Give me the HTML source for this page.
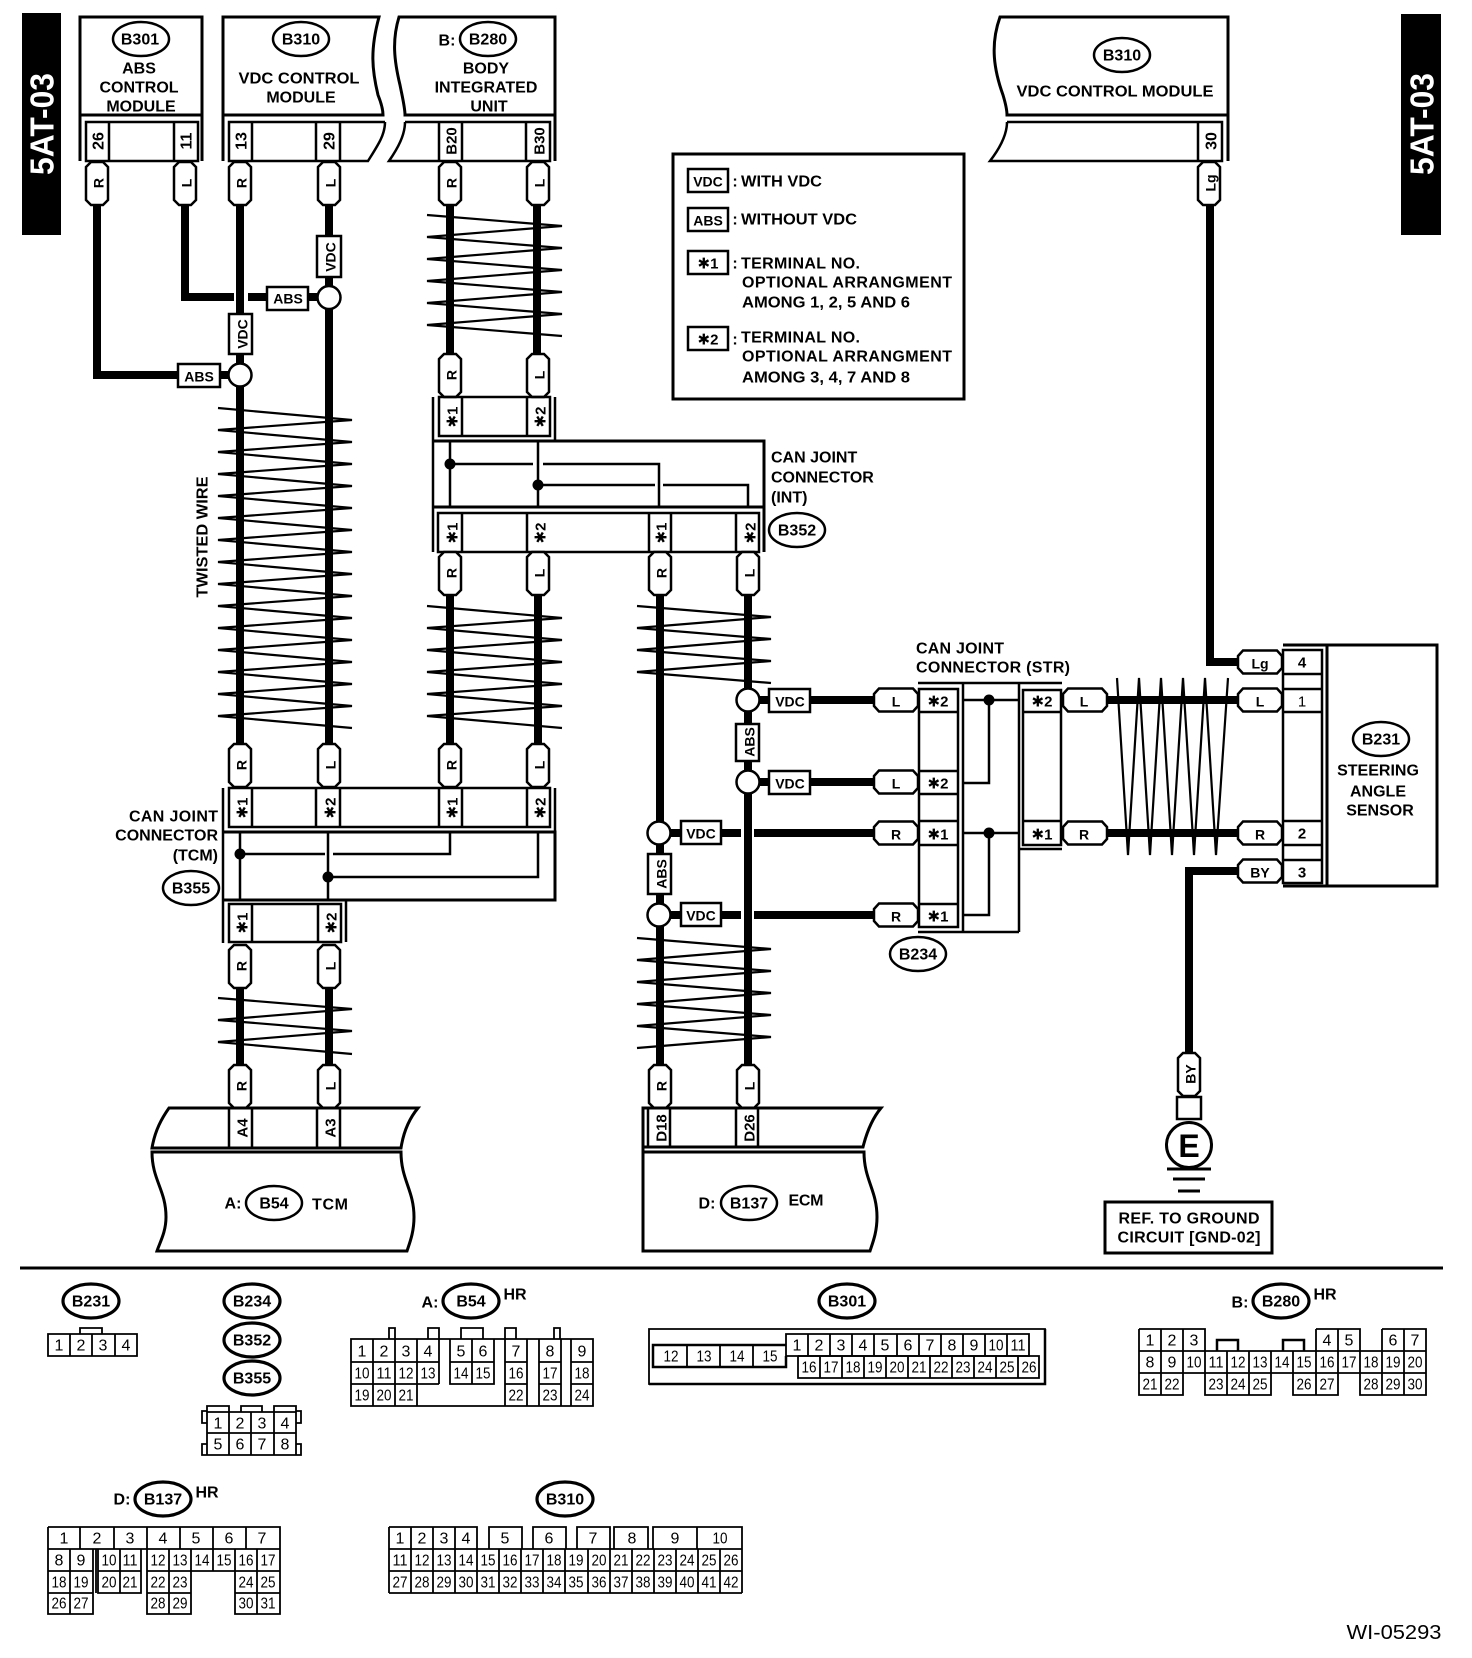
<!DOCTYPE html>
<html><head><meta charset="utf-8"><style>
html,body{margin:0;padding:0;background:#fff}
svg{display:block}
text{font-family:"Liberation Sans","DejaVu Sans",sans-serif;fill:#000;text-anchor:middle;dominant-baseline:mathematical}
text:not([transform]){translate:0 -1px}
.b{font-weight:bold;font-size:16px}
.s{font-weight:bold;font-size:14px}
.m{font-weight:bold;font-size:15px}
.n{font-size:16px}
.n text{font-size:16px}
.st{fill:none;stroke:#000;stroke-width:2.5}
.f{fill:#fff;stroke:#000;stroke-width:2.5}
.w{fill:none;stroke:#000;stroke-width:8}
.z{fill:none;stroke:#000;stroke-width:2.2}
.g{fill:none;stroke:#000;stroke-width:1.8}
.o{fill:#fff;stroke:#000;stroke-width:2.5}
.ot{fill:#fff;stroke:#000;stroke-width:3.2}
.l{text-anchor:start}
.r{text-anchor:end}
</style></head><body>
<svg width="1472" height="1658" viewBox="0 0 1472 1658" xmlns="http://www.w3.org/2000/svg">
<defs>
<path id="pv" class="f" d="M-11,5 L-6,0 H6 L11,5 V38 L6,43 H-6 L-11,38 Z"/>
<path id="ph" class="f" d="M5,-11.5 H39 L44,-6 V6 L39,11.5 H5 L0,6 V-6 Z"/>
</defs>
<rect width="1472" height="1658" fill="#fff"/>

<!-- side tabs -->
<rect x="22" y="13" width="39" height="222" fill="#000"/>
<rect x="1401" y="14" width="40" height="221" fill="#000"/>
<text transform="translate(42,124) rotate(-90)" style="fill:#fff;font-weight:bold;font-size:33px;dominant-baseline:central" textLength="102" lengthAdjust="spacingAndGlyphs">5AT-03</text>
<text transform="translate(1422,124) rotate(-90)" style="fill:#fff;font-weight:bold;font-size:33px;dominant-baseline:central" textLength="102" lengthAdjust="spacingAndGlyphs">5AT-03</text>

<!-- wires -->
<path class="w" d="M97,205 V375 H180"/>
<path class="w" d="M220,375 H232"/>
<path class="w" d="M185,205 V297 H234"/>
<path class="w" d="M248,297 H268 M308,297 H320"/>
<path class="w" d="M240,205 V745"/>
<path class="w" d="M329,205 V745"/>
<path class="w" d="M450,205 V355 M537,205 V355"/>
<path class="w" d="M450,595 V745 M538,595 V745"/>
<path class="w" d="M240,987 V1066 M329,987 V1066"/>
<path class="w" d="M660,595 V1066 M748,595 V1066"/>
<path class="w" d="M759,700 H875 M759,782 H875"/>
<path class="w" d="M671,833 H741 M754,833 H875 M671,915 H741 M754,915 H875"/>
<path class="w" d="M1107,700 H1238 M1107,833 H1238"/>
<path class="w" d="M1210,205 V662 H1238"/>
<path class="w" d="M1238,871 H1189 V1054"/>

<!-- twists -->
<path class="z" d="M218,408 L352,420 L218,430 L352,442 L218,452 L352,464 L218,474 L352,486 L218,496 L352,508 L218,518 L352,530 L218,540 L352,552 L218,562 L352,574 L218,584 L352,596 L218,606 L352,618 L218,628 L352,640 L218,650 L352,662 L218,672 L352,684 L218,694 L352,706 L218,716 L352,728"/>
<path class="z" d="M427,215 L562,226 L427,237 L562,248 L427,259 L562,270 L427,281 L562,292 L427,303 L562,314 L427,325 L562,336"/>
<path class="z" d="M427,606 L562,618 L427,628 L562,640 L427,650 L562,662 L427,672 L562,684 L427,694 L562,706 L427,716 L562,728"/>
<path class="z" d="M218,998 L352,1009 L218,1020 L352,1031 L218,1042 L352,1054"/>
<path class="z" d="M637,606 L771,617 L637,628 L771,639 L637,650 L771,661 L637,672 L771,683"/>
<path class="z" d="M637,938 L771,949 L637,960 L771,971 L637,982 L771,993 L637,1004 L771,1015 L637,1026 L771,1037 L637,1048"/>
<path class="z" d="M1117,678 L1128,855 L1139,678 L1150,855 L1161,678 L1172,855 L1183,678 L1194,855 L1205,678 L1216,855 L1228,678"/>

<!-- module boxes -->
<path class="st" style="stroke-width:3" d="M80,161 V17 H202 V161 M80,115 H202"/>
<rect class="st" x="86" y="122" width="112" height="39"/>
<path class="st" d="M109,122 V161 M174,122 V161"/>
<path class="st" style="stroke-width:3" d="M223,161 V17 H379 C370,50 372,70 378,95 C382,105 383,110 383,115 H223"/>
<path class="st" d="M385,122 H229 V161 H368 C378,145 385,135 385,122 M252,122 V161 M316,122 V161 M340,122 V161"/>
<path class="st" style="stroke-width:3" d="M555,161 V17 H399 C392,40 394,60 400,85 C403,100 405,108 405,115 H555"/>
<path class="st" d="M405,122 H550 V161 H389 C398,148 405,135 405,122 M439,122 V161 M462,122 V161 M526,122 V161"/>
<path class="st" style="stroke-width:3" d="M1228,161 V17 H1000 C990,45 994,70 1003,95 C1006,105 1007,110 1007,115 H1228"/>
<path class="st" d="M1007,122 H1222 V161 H990 C1000,148 1007,135 1007,122 M1198,122 V161"/>

<ellipse class="o" cx="141" cy="39" rx="28" ry="17"/><text class="b" x="140" y="39">B301</text>
<text class="b" x="139" y="68">ABS</text><text class="b" x="139" y="87">CONTROL</text><text class="b" x="141" y="106">MODULE</text>
<ellipse class="o" cx="301" cy="39" rx="28" ry="17"/><text class="b" x="301" y="39">B310</text>
<text class="b" x="299" y="78" textLength="121" lengthAdjust="spacingAndGlyphs">VDC CONTROL</text><text class="b" x="301" y="97">MODULE</text>
<text class="b" x="447" y="40">B:</text>
<ellipse class="o" cx="488" cy="39" rx="28" ry="17"/><text class="b" x="488" y="39">B280</text>
<text class="b" x="486" y="68">BODY</text><text class="b" x="486" y="87">INTEGRATED</text><text class="b" x="489" y="106">UNIT</text>
<ellipse class="o" cx="1122" cy="55" rx="28" ry="17"/><text class="b" x="1122" y="55">B310</text>
<text class="b" x="1115" y="91" textLength="197" lengthAdjust="spacingAndGlyphs">VDC CONTROL MODULE</text>

<text class="n" style="font-weight:bold" transform="translate(97,141) rotate(-90)">26</text>
<text class="n" style="font-weight:bold" transform="translate(185,141) rotate(-90)">11</text>
<text class="n" style="font-weight:bold" transform="translate(240,141) rotate(-90)">13</text>
<text class="n" style="font-weight:bold" transform="translate(328,141) rotate(-90)">29</text>
<text class="m" transform="translate(450,141) rotate(-90)">B20</text>
<text class="m" transform="translate(538,141) rotate(-90)">B30</text>
<text class="n" style="font-weight:bold" transform="translate(1210,141) rotate(-90)">30</text>

<!-- top pins -->
<use href="#pv" x="97" y="162"/><use href="#pv" x="185" y="162"/><use href="#pv" x="240" y="162"/><use href="#pv" x="329" y="162"/><use href="#pv" x="450" y="162"/><use href="#pv" x="538" y="162"/><use href="#pv" x="1209" y="162"/>
<text class="s" transform="translate(97,183) rotate(-90)">R</text>
<text class="s" transform="translate(185,183) rotate(-90)">L</text>
<text class="s" transform="translate(240,183) rotate(-90)">R</text>
<text class="s" transform="translate(329,183) rotate(-90)">L</text>
<text class="s" transform="translate(450,183) rotate(-90)">R</text>
<text class="s" transform="translate(538,183) rotate(-90)">L</text>
<text class="s" transform="translate(1209,183) rotate(-90)">Lg</text>

<!-- VDC/ABS upper left -->
<rect class="f" x="178" y="364" width="42" height="23"/><text class="s" x="199" y="376">ABS</text>
<rect class="f" x="267" y="287" width="41" height="23"/><text class="s" x="288" y="298">ABS</text>
<rect class="f" x="229" y="314" width="23" height="40"/><text class="s" transform="translate(241,334) rotate(-90)">VDC</text>
<rect class="f" x="317" y="236" width="24" height="41"/><text class="s" transform="translate(329,257) rotate(-90)">VDC</text>
<circle class="f" cx="240" cy="375" r="11.5"/>
<circle class="f" cx="329" cy="297.500" r="11.5"/>

<!-- legend -->
<rect class="st" style="stroke-width:3" x="673" y="154" width="291" height="245"/>
<rect class="st" x="688" y="169" width="40" height="23"/><text class="s" x="708" y="181">VDC</text>
<rect class="st" x="688" y="208" width="40" height="23"/><text class="s" x="708" y="220">ABS</text>
<rect class="st" x="688" y="251" width="40" height="23"/><text class="m" x="708" y="263">✱1</text>
<rect class="st" x="688" y="327" width="40" height="23"/><text class="m" x="708" y="339">✱2</text>
<text class="b" x="735" y="181">:</text><text class="b" x="735" y="219">:</text><text class="b" x="735" y="263">:</text><text class="b" x="735" y="339">:</text>
<text class="b l" x="741" y="181" textLength="81" lengthAdjust="spacingAndGlyphs">WITH VDC</text>
<text class="b l" x="741" y="219" textLength="116" lengthAdjust="spacingAndGlyphs">WITHOUT VDC</text>
<text class="b l" x="741" y="263" textLength="119">TERMINAL NO.</text>
<text class="b l" x="742" y="282" textLength="210">OPTIONAL ARRANGMENT</text>
<text class="b l" x="742" y="302" textLength="168" lengthAdjust="spacingAndGlyphs">AMONG 1, 2, 5 AND 6</text>
<text class="b l" x="741" y="337" textLength="119">TERMINAL NO.</text>
<text class="b l" x="742" y="356" textLength="210">OPTIONAL ARRANGMENT</text>
<text class="b l" x="742" y="377" textLength="168" lengthAdjust="spacingAndGlyphs">AMONG 3, 4, 7 AND 8</text>

<!-- CAN INT -->
<use href="#pv" x="450" y="354"/><use href="#pv" x="538" y="354"/>
<text class="s" transform="translate(450,375) rotate(-90)">R</text><text class="s" transform="translate(538,375) rotate(-90)">L</text>
<rect class="st" x="439" y="397" width="111" height="39"/>
<path class="st" d="M462,397 V436 M527,397 V436 M433,397 V552 M555,397 V441"/>
<path class="st" style="stroke-width:3" d="M433,441 H764 V552 M433,507 H764"/>
<rect class="st" x="438" y="513" width="321" height="39"/>
<path class="st" d="M462,513 V552 M527,513 V552 M649,513 V552 M671,513 V552 M736,513 V552"/>
<path class="st" d="M450,441 V507 M538,441 V507 M450,464 H533 M543,464 H659 V507 M538,485 H655 M663,485 H748 V507"/>
<circle cx="450" cy="464" r="5.500"/><circle cx="538" cy="485" r="5.500"/>
<text class="m" transform="translate(451,417) rotate(-90)">✱1</text><text class="m" transform="translate(539,417) rotate(-90)">✱2</text>
<text class="m" transform="translate(451,533) rotate(-90)">✱1</text><text class="m" transform="translate(539,533) rotate(-90)">✱2</text>
<text class="m" transform="translate(660,533) rotate(-90)">✱1</text><text class="m" transform="translate(749,533) rotate(-90)">✱2</text>
<text class="b l" x="771" y="457">CAN JOINT</text><text class="b l" x="771" y="477">CONNECTOR</text><text class="b l" x="771" y="497">(INT)</text>
<ellipse class="o" cx="797" cy="530" rx="28" ry="17"/><text class="b" x="797" y="530">B352</text>
<use href="#pv" x="450" y="552"/><use href="#pv" x="538" y="552"/><use href="#pv" x="660" y="552"/><use href="#pv" x="748" y="552"/>
<text class="s" transform="translate(450,573) rotate(-90)">R</text><text class="s" transform="translate(538,573) rotate(-90)">L</text><text class="s" transform="translate(660,573) rotate(-90)">R</text><text class="s" transform="translate(748,573) rotate(-90)">L</text>

<text class="b" transform="translate(201,537) rotate(-90)" textLength="121" lengthAdjust="spacingAndGlyphs">TWISTED WIRE</text>

<!-- CAN TCM -->
<use href="#pv" x="240" y="744"/><use href="#pv" x="329" y="744"/><use href="#pv" x="450" y="744"/><use href="#pv" x="538" y="744"/>
<text class="s" transform="translate(240,765) rotate(-90)">R</text><text class="s" transform="translate(329,765) rotate(-90)">L</text><text class="s" transform="translate(450,765) rotate(-90)">R</text><text class="s" transform="translate(538,765) rotate(-90)">L</text>
<rect class="st" x="229" y="788" width="321" height="39"/>
<path class="st" d="M252,788 V827 M316,788 V827 M340,788 V827 M439,788 V827 M462,788 V827 M527,788 V827 M223,788 V943 M555,788 V832"/>
<path class="st" style="stroke-width:3" d="M223,832 H555 V900 H223"/>
<rect class="st" x="229" y="904" width="112" height="38"/>
<path class="st" d="M252,904 V942 M318,904 V942 M346,900 V942"/>
<path class="st" d="M240,832 V900 M328,832 V900 M240,854 H325 M333,854 H450 V832 M328,877 H538 V832"/>
<circle cx="240" cy="854" r="5.500"/><circle cx="328" cy="877" r="5.500"/>
<text class="m" transform="translate(241,808) rotate(-90)">✱1</text><text class="m" transform="translate(329,808) rotate(-90)">✱2</text><text class="m" transform="translate(451,808) rotate(-90)">✱1</text><text class="m" transform="translate(539,808) rotate(-90)">✱2</text>
<text class="m" transform="translate(241,923) rotate(-90)">✱1</text><text class="m" transform="translate(330,923) rotate(-90)">✱2</text>
<text class="b r" x="218" y="816" textLength="89">CAN JOINT</text><text class="b r" x="218" y="835">CONNECTOR</text><text class="b r" x="218" y="855">(TCM)</text>
<ellipse class="o" cx="191" cy="888" rx="28" ry="17"/><text class="b" x="191" y="888">B355</text>
<use href="#pv" x="240" y="945"/><use href="#pv" x="329" y="945"/>
<text class="s" transform="translate(240,966) rotate(-90)">R</text><text class="s" transform="translate(329,966) rotate(-90)">L</text>
<use href="#pv" x="240" y="1065"/><use href="#pv" x="329" y="1065"/>
<text class="s" transform="translate(240,1086) rotate(-90)">R</text><text class="s" transform="translate(329,1086) rotate(-90)">L</text>

<!-- TCM -->
<path class="st" style="stroke-width:3" d="M152,1148 C155,1130 162,1118 169,1108 H418 C408,1120 403,1135 401,1148 Z"/>
<path class="st" style="stroke-width:3" d="M152,1152 H401 C401,1180 414,1190 414,1217 C414,1232 410,1242 407,1251 H157 C160,1242 166,1232 166,1217 C166,1190 152,1180 152,1152 Z"/>
<path class="st" d="M229,1108 V1148 M252,1108 V1148 M317,1108 V1148 M340,1108 V1148"/>
<text class="m" transform="translate(241,1128) rotate(-90)">A4</text><text class="m" transform="translate(329,1128) rotate(-90)">A3</text>
<text class="b" x="233" y="1203">A:</text>
<ellipse class="o" cx="274" cy="1203" rx="28" ry="17"/><text class="b" x="274" y="1203">B54</text>
<text class="b" x="330" y="1204" textLength="36">TCM</text>

<!-- ECM side -->
<rect class="f" x="736" y="724" width="23" height="37"/><text class="s" transform="translate(748,742) rotate(-90)">ABS</text>
<rect class="f" x="648" y="854" width="23" height="40"/><text class="s" transform="translate(660,874) rotate(-90)">ABS</text>
<circle class="f" cx="748" cy="700" r="11.5"/><circle class="f" cx="748" cy="782" r="11.5"/>
<circle class="f" cx="659" cy="833" r="11.5"/><circle class="f" cx="659" cy="915" r="11.5"/>
<rect class="f" x="769" y="689" width="41" height="23"/><text class="s" x="790" y="701">VDC</text>
<rect class="f" x="769" y="771" width="41" height="23"/><text class="s" x="790" y="783">VDC</text>
<rect class="f" x="681" y="821" width="40" height="23"/><text class="s" x="701" y="833">VDC</text>
<rect class="f" x="681" y="903" width="40" height="23"/><text class="s" x="701" y="915">VDC</text>
<use href="#pv" x="660" y="1065"/><use href="#pv" x="748" y="1065"/>
<text class="s" transform="translate(660,1086) rotate(-90)">R</text><text class="s" transform="translate(748,1086) rotate(-90)">L</text>
<path class="st" style="stroke-width:3" d="M643,1251 V1152 H864 C864,1180 877,1190 877,1217 C877,1232 873,1242 870,1251 Z"/>
<path class="st" style="stroke-width:3" d="M643,1152 V1108 H881 C871,1120 866,1135 863,1147 H643"/>
<path class="st" d="M648,1108 V1147 M670,1108 V1147 M736,1108 V1147 M758,1108 V1147"/>
<text class="m" transform="translate(660,1128) rotate(-90)">D18</text><text class="m" transform="translate(748,1128) rotate(-90)">D26</text>
<text class="b" x="707" y="1203">D:</text>
<ellipse class="o" cx="749" cy="1203" rx="28" ry="17"/><text class="b" x="749" y="1203">B137</text>
<text class="b" x="806" y="1200" textLength="35">ECM</text>

<!-- STR joint -->
<text class="b l" x="916" y="648" textLength="88">CAN JOINT</text>
<text class="b l" x="916" y="667" textLength="154">CONNECTOR (STR)</text>
<use href="#ph" x="874" y="700"/><use href="#ph" x="874" y="782"/><use href="#ph" x="874" y="833"/><use href="#ph" x="874" y="915"/>
<text class="s" x="896" y="701">L</text><text class="s" x="896" y="783">L</text><text class="s" x="896" y="834">R</text><text class="s" x="896" y="916">R</text>
<rect class="st" x="919" y="689" width="39" height="238"/>
<path class="st" d="M919,712 H958 M919,771 H958 M919,794 H958 M919,821 H958 M919,845 H958 M919,904 H958"/>
<path class="st" d="M918,683 H1062 M918,932 H1019 M1019,849 H1062 M963,683 V932 M1019,683 V932"/>
<rect class="st" x="1023" y="690" width="38" height="155"/>
<path class="st" d="M1023,712 H1061 M1023,821 H1061"/>
<path class="st" d="M963,700 H1019 M963,783 H989 V700 M963,833 H1019 M963,915 H989 V833"/>
<circle cx="989" cy="700" r="5.500"/><circle cx="989" cy="833" r="5.500"/>
<text class="m" x="938" y="701">✱2</text><text class="m" x="938" y="783">✱2</text><text class="m" x="938" y="834">✱1</text><text class="m" x="938" y="916">✱1</text>
<text class="m" x="1042" y="701">✱2</text><text class="m" x="1042" y="834">✱1</text>
<ellipse class="o" cx="918" cy="954" rx="28" ry="17"/><text class="b" x="918" y="954">B234</text>
<use href="#ph" x="1063" y="700"/><use href="#ph" x="1063" y="833"/>
<text class="s" x="1084" y="701">L</text><text class="s" x="1084" y="834">R</text>
<use href="#ph" x="1238" y="662"/><use href="#ph" x="1238" y="700"/><use href="#ph" x="1238" y="833"/><use href="#ph" x="1238" y="871"/>
<text class="s" x="1260" y="663">Lg</text><text class="s" x="1260" y="701">L</text><text class="s" x="1260" y="834">R</text><text class="s" x="1260" y="872">BY</text>

<!-- Steering sensor -->
<rect class="st" x="1283" y="650" width="39" height="233"/>
<path class="st" d="M1283,674 H1322 M1283,689 H1322 M1283,712 H1322 M1283,821 H1322 M1283,845 H1322 M1283,860 H1322"/>
<path class="st" style="stroke-width:3" d="M1283,645 H1437 V886 H1283 M1327,645 V886"/>
<text class="m" x="1302" y="662">4</text><text style="font-size:15px" x="1302" y="701">1</text><text class="m" x="1302" y="833">2</text><text class="m" x="1302" y="872">3</text>
<ellipse class="o" cx="1381" cy="739" rx="28" ry="17"/><text class="b" x="1381" y="739">B231</text>
<text class="b" x="1378" y="770">STEERING</text><text class="b" x="1378" y="791">ANGLE</text><text class="b" x="1380" y="810">SENSOR</text>

<!-- Ground -->
<use href="#pv" x="1189" y="1053"/>
<text class="s" transform="translate(1189,1074) rotate(-90)">BY</text>
<rect class="f" x="1177" y="1097" width="24" height="22"/>
<circle class="st" style="stroke-width:3" cx="1189" cy="1145" r="22.500"/>
<text x="1189" y="1147" style="font-weight:bold;font-size:32px;dominant-baseline:central">E</text>
<path class="st" style="stroke-width:3" d="M1167,1169 H1211 M1173,1179 H1205 M1178,1191 H1200"/>
<rect class="st" style="stroke-width:3" x="1105" y="1202" width="167" height="51"/>
<text class="b" x="1189" y="1218" textLength="141">REF. TO GROUND</text>
<text class="b" x="1189" y="1237" textLength="143">CIRCUIT [GND-02]</text>

<!-- divider -->
<rect x="20" y="1266.500" width="1423" height="3"/>

<!-- B231 -->
<ellipse class="ot" cx="91" cy="1301" rx="28" ry="17"/><text class="b" x="91" y="1301">B231</text>
<path class="g" d="M48,1334 H137 V1356 H48 Z M70,1334 V1356 M92,1334 V1356 M115,1334 V1356 M80,1334 V1328 H102 V1334"/>
<g class="n"><text x="59" y="1345">1</text><text x="81" y="1345">2</text><text x="103" y="1345">3</text><text x="126" y="1345">4</text></g>

<!-- B234 group -->
<ellipse class="ot" cx="252" cy="1301" rx="28" ry="17"/><text class="b" x="252" y="1301">B234</text>
<ellipse class="ot" cx="252" cy="1340" rx="28" ry="17"/><text class="b" x="252" y="1340">B352</text>
<ellipse class="ot" cx="252" cy="1378" rx="28" ry="17"/><text class="b" x="252" y="1378">B355</text>
<path class="g" d="M207,1412 H296 V1455 H207 Z M207,1433 H296 M229,1412 V1455 M251,1412 V1455 M274,1412 V1455 M207,1412 V1406 H229 V1412 M241,1412 V1406 H262 V1412 M274,1412 V1406 H296 V1412 M207,1411 H202 V1423 H207 M207,1444 H202 V1455 H207 M296,1411 H301 V1423 H296 M296,1444 H301 V1455 H296"/>
<g class="n"><text x="218" y="1423">1</text><text x="240" y="1423">2</text><text x="262" y="1423">3</text><text x="285" y="1423">4</text><text x="218" y="1444">5</text><text x="240" y="1444">6</text><text x="262" y="1444">7</text><text x="285" y="1444">8</text></g>

<!-- B54 -->
<text class="b" x="430" y="1302">A:</text>
<ellipse class="ot" cx="471" cy="1301" rx="28" ry="17"/><text class="b" x="471" y="1301">B54</text>
<text class="b" x="515" y="1294">HR</text>
<path class="g" d="M351,1339 H593 V1406 H351 Z M351,1362 H439 M351,1384 H439 M373,1339 V1406 M395,1339 V1406 M417,1339 V1406 M439,1339 V1384 M450,1339 V1384 H494 V1339 M450,1362 H494 M472,1339 V1384 M505,1339 V1406 M527,1339 V1406 M505,1362 H527 M505,1384 H527 M539,1339 V1406 M561,1339 V1406 M539,1362 H561 M539,1384 H561 M571,1339 V1406 M571,1362 H593 M571,1384 H593 M389,1339 V1328 H395 V1339 M428,1339 V1328 H439 V1339 M461,1339 V1328 H483 V1339 M505,1339 V1328 H516 V1339 M554,1339 V1328 H560 V1339"/>
<g class="n"><text x="362" y="1351">1</text><text x="384" y="1351">2</text><text x="406" y="1351">3</text><text x="428" y="1351">4</text><text x="461" y="1351">5</text><text x="483" y="1351">6</text><text x="516" y="1351">7</text><text x="550" y="1351">8</text><text x="582" y="1351">9</text>
<text x="362" y="1373" textLength="15" lengthAdjust="spacingAndGlyphs">10</text><text x="384" y="1373" textLength="15" lengthAdjust="spacingAndGlyphs">11</text><text x="406" y="1373" textLength="15" lengthAdjust="spacingAndGlyphs">12</text><text x="428" y="1373" textLength="15" lengthAdjust="spacingAndGlyphs">13</text><text x="461" y="1373" textLength="15" lengthAdjust="spacingAndGlyphs">14</text><text x="483" y="1373" textLength="15" lengthAdjust="spacingAndGlyphs">15</text><text x="516" y="1373" textLength="15" lengthAdjust="spacingAndGlyphs">16</text><text x="550" y="1373" textLength="15" lengthAdjust="spacingAndGlyphs">17</text><text x="582" y="1373" textLength="15" lengthAdjust="spacingAndGlyphs">18</text>
<text x="362" y="1395" textLength="15" lengthAdjust="spacingAndGlyphs">19</text><text x="384" y="1395" textLength="15" lengthAdjust="spacingAndGlyphs">20</text><text x="406" y="1395" textLength="15" lengthAdjust="spacingAndGlyphs">21</text><text x="516" y="1395" textLength="15" lengthAdjust="spacingAndGlyphs">22</text><text x="550" y="1395" textLength="15" lengthAdjust="spacingAndGlyphs">23</text><text x="582" y="1395" textLength="15" lengthAdjust="spacingAndGlyphs">24</text></g>

<!-- B301 -->
<ellipse class="ot" cx="847" cy="1301" rx="28" ry="17"/><text class="b" x="847" y="1301">B301</text>
<path class="g" d="M649,1329 H1045 V1384 H649 Z"/>
<path class="st" d="M649,1384 H1045 V1329"/>
<path class="st" d="M786,1345 H653 V1367 H786 V1356"/>
<path class="g" d="M687,1345 V1367 M720,1345 V1367 M753,1345 V1367"/>
<path class="g" d="M786,1356 V1334 H1029 V1356 H786 M808,1334 V1356 M830,1334 V1356 M852,1334 V1356 M874,1334 V1356 M897,1334 V1356 M919,1334 V1356 M941,1334 V1356 M963,1334 V1356 M985,1334 V1356 M1007,1334 V1356"/>
<path class="g" d="M798,1356 V1378 H1039 V1356 H798 M820,1356 V1378 M842,1356 V1378 M864,1356 V1378 M886,1356 V1378 M908,1356 V1378 M930,1356 V1378 M952,1356 V1378 M974,1356 V1378 M996,1356 V1378 M1018,1356 V1378"/>
<g class="n"><text x="671" y="1356" textLength="15" lengthAdjust="spacingAndGlyphs">12</text><text x="704" y="1356" textLength="15" lengthAdjust="spacingAndGlyphs">13</text><text x="737" y="1356" textLength="15" lengthAdjust="spacingAndGlyphs">14</text><text x="770" y="1356" textLength="15" lengthAdjust="spacingAndGlyphs">15</text>
<text x="797" y="1345">1</text><text x="819" y="1345">2</text><text x="841" y="1345">3</text><text x="863" y="1345">4</text><text x="885" y="1345">5</text><text x="908" y="1345">6</text><text x="930" y="1345">7</text><text x="952" y="1345">8</text><text x="974" y="1345">9</text><text x="996" y="1345" textLength="15" lengthAdjust="spacingAndGlyphs">10</text><text x="1018" y="1345" textLength="15" lengthAdjust="spacingAndGlyphs">11</text>
<text x="809" y="1367" textLength="15" lengthAdjust="spacingAndGlyphs">16</text><text x="831" y="1367" textLength="15" lengthAdjust="spacingAndGlyphs">17</text><text x="853" y="1367" textLength="15" lengthAdjust="spacingAndGlyphs">18</text><text x="875" y="1367" textLength="15" lengthAdjust="spacingAndGlyphs">19</text><text x="897" y="1367" textLength="15" lengthAdjust="spacingAndGlyphs">20</text><text x="919" y="1367" textLength="15" lengthAdjust="spacingAndGlyphs">21</text><text x="941" y="1367" textLength="15" lengthAdjust="spacingAndGlyphs">22</text><text x="963" y="1367" textLength="15" lengthAdjust="spacingAndGlyphs">23</text><text x="985" y="1367" textLength="15" lengthAdjust="spacingAndGlyphs">24</text><text x="1007" y="1367" textLength="15" lengthAdjust="spacingAndGlyphs">25</text><text x="1029" y="1367" textLength="15" lengthAdjust="spacingAndGlyphs">26</text></g>

<!-- B280 -->
<text class="b" x="1240" y="1302">B:</text>
<ellipse class="ot" cx="1281" cy="1301" rx="28" ry="17"/><text class="b" x="1281" y="1301">B280</text>
<text class="b" x="1325" y="1294">HR</text>
<path class="g" d="M1139,1329 H1205 V1351 M1139,1329 V1395 H1183 V1373 M1161,1329 V1395 M1183,1329 V1351 M1316,1329 H1360 V1351 M1316,1329 V1351 M1338,1329 V1351 M1382,1329 H1426 V1395 H1360 V1373 M1382,1329 V1351 M1404,1329 V1395 M1139,1351 H1426 M1139,1373 H1426 M1205,1351 V1395 H1271 V1351 M1227,1351 V1395 M1249,1351 V1395 M1183,1351 V1373 M1293,1351 V1395 H1338 V1351 M1316,1351 V1395 M1360,1351 V1373 M1382,1351 V1395"/>
<path class="st" d="M1217,1351 V1340 H1238 V1351 M1283,1351 V1340 H1304 V1351"/>
<g class="n"><text x="1150" y="1340">1</text><text x="1172" y="1340">2</text><text x="1194" y="1340">3</text><text x="1327" y="1340">4</text><text x="1349" y="1340">5</text><text x="1393" y="1340">6</text><text x="1415" y="1340">7</text>
<text x="1150" y="1362">8</text><text x="1172" y="1362">9</text><text x="1194" y="1362" textLength="15" lengthAdjust="spacingAndGlyphs">10</text><text x="1216" y="1362" textLength="15" lengthAdjust="spacingAndGlyphs">11</text><text x="1238" y="1362" textLength="15" lengthAdjust="spacingAndGlyphs">12</text><text x="1260" y="1362" textLength="15" lengthAdjust="spacingAndGlyphs">13</text><text x="1282" y="1362" textLength="15" lengthAdjust="spacingAndGlyphs">14</text><text x="1304" y="1362" textLength="15" lengthAdjust="spacingAndGlyphs">15</text><text x="1327" y="1362" textLength="15" lengthAdjust="spacingAndGlyphs">16</text><text x="1349" y="1362" textLength="15" lengthAdjust="spacingAndGlyphs">17</text><text x="1371" y="1362" textLength="15" lengthAdjust="spacingAndGlyphs">18</text><text x="1393" y="1362" textLength="15" lengthAdjust="spacingAndGlyphs">19</text><text x="1415" y="1362" textLength="15" lengthAdjust="spacingAndGlyphs">20</text>
<text x="1150" y="1384" textLength="15" lengthAdjust="spacingAndGlyphs">21</text><text x="1172" y="1384" textLength="15" lengthAdjust="spacingAndGlyphs">22</text><text x="1216" y="1384" textLength="15" lengthAdjust="spacingAndGlyphs">23</text><text x="1238" y="1384" textLength="15" lengthAdjust="spacingAndGlyphs">24</text><text x="1260" y="1384" textLength="15" lengthAdjust="spacingAndGlyphs">25</text><text x="1304" y="1384" textLength="15" lengthAdjust="spacingAndGlyphs">26</text><text x="1327" y="1384" textLength="15" lengthAdjust="spacingAndGlyphs">27</text><text x="1371" y="1384" textLength="15" lengthAdjust="spacingAndGlyphs">28</text><text x="1393" y="1384" textLength="15" lengthAdjust="spacingAndGlyphs">29</text><text x="1415" y="1384" textLength="15" lengthAdjust="spacingAndGlyphs">30</text></g>

<!-- B137 -->
<text class="b" x="122" y="1499">D:</text>
<ellipse class="ot" cx="163" cy="1499" rx="28" ry="17"/><text class="b" x="163" y="1499">B137</text>
<text class="b" x="207" y="1492">HR</text>
<path class="g" d="M48,1527 H280 V1614 H235 V1549 M48,1527 V1614 H93 V1549 M48,1549 H280 M80,1527 V1549 M114,1527 V1549 M147,1527 V1549 M180,1527 V1549 M213,1527 V1571 M246,1527 V1549 M70,1549 V1614 M48,1571 H93 M48,1593 H93 M96,1549 V1593 M98,1549 V1593 H141 V1549 M120,1549 V1593 M98,1571 H141 M147,1549 V1614 H191 V1549 M169,1549 V1614 M147,1571 H280 M147,1593 H191 M257,1549 V1614 M235,1593 H280"/>
<g class="n"><text x="64" y="1538">1</text><text x="97" y="1538">2</text><text x="130" y="1538">3</text><text x="163" y="1538">4</text><text x="196" y="1538">5</text><text x="229" y="1538">6</text><text x="262" y="1538">7</text>
<text x="59" y="1560">8</text><text x="81" y="1560">9</text><text x="109" y="1560" textLength="15" lengthAdjust="spacingAndGlyphs">10</text><text x="130" y="1560" textLength="15" lengthAdjust="spacingAndGlyphs">11</text><text x="158" y="1560" textLength="15" lengthAdjust="spacingAndGlyphs">12</text><text x="180" y="1560" textLength="15" lengthAdjust="spacingAndGlyphs">13</text><text x="202" y="1560" textLength="15" lengthAdjust="spacingAndGlyphs">14</text><text x="224" y="1560" textLength="15" lengthAdjust="spacingAndGlyphs">15</text><text x="246" y="1560" textLength="15" lengthAdjust="spacingAndGlyphs">16</text><text x="268" y="1560" textLength="15" lengthAdjust="spacingAndGlyphs">17</text>
<text x="59" y="1582" textLength="15" lengthAdjust="spacingAndGlyphs">18</text><text x="81" y="1582" textLength="15" lengthAdjust="spacingAndGlyphs">19</text><text x="109" y="1582" textLength="15" lengthAdjust="spacingAndGlyphs">20</text><text x="130" y="1582" textLength="15" lengthAdjust="spacingAndGlyphs">21</text><text x="158" y="1582" textLength="15" lengthAdjust="spacingAndGlyphs">22</text><text x="180" y="1582" textLength="15" lengthAdjust="spacingAndGlyphs">23</text><text x="246" y="1582" textLength="15" lengthAdjust="spacingAndGlyphs">24</text><text x="268" y="1582" textLength="15" lengthAdjust="spacingAndGlyphs">25</text>
<text x="59" y="1603" textLength="15" lengthAdjust="spacingAndGlyphs">26</text><text x="81" y="1603" textLength="15" lengthAdjust="spacingAndGlyphs">27</text><text x="158" y="1603" textLength="15" lengthAdjust="spacingAndGlyphs">28</text><text x="180" y="1603" textLength="15" lengthAdjust="spacingAndGlyphs">29</text><text x="246" y="1603" textLength="15" lengthAdjust="spacingAndGlyphs">30</text><text x="268" y="1603" textLength="15" lengthAdjust="spacingAndGlyphs">31</text></g>

<!-- B310 bottom -->
<ellipse class="ot" cx="565" cy="1499" rx="28" ry="17"/><text class="b" x="565" y="1499">B310</text>
<path class="g" d="M389,1527 H477 V1549 M389,1527 V1593 M411,1527 V1593 M433,1527 V1593 M455,1527 V1593 M489,1549 V1527 H522 V1549 M533,1549 V1527 H566 V1549 M577,1549 V1527 H610 V1549 M614,1549 V1527 H648 V1549 M653,1549 V1527 H742 V1593 M697,1527 V1549 M389,1549 H742 M389,1571 H742 M389,1593 H742 M477,1549 V1593 M499,1549 V1593 M521,1549 V1593 M543,1549 V1593 M565,1549 V1593 M588,1549 V1593 M610,1549 V1593 M632,1549 V1593 M654,1549 V1593 M676,1549 V1593 M698,1549 V1593 M720,1549 V1593"/>
<g class="n"><text x="400" y="1538">1</text><text x="422" y="1538">2</text><text x="444" y="1538">3</text><text x="466" y="1538">4</text><text x="505" y="1538">5</text><text x="549" y="1538">6</text><text x="593" y="1538">7</text><text x="632" y="1538">8</text><text x="675" y="1538">9</text><text x="720" y="1538" textLength="15" lengthAdjust="spacingAndGlyphs">10</text>
<text x="400" y="1560" textLength="15" lengthAdjust="spacingAndGlyphs">11</text><text x="422" y="1560" textLength="15" lengthAdjust="spacingAndGlyphs">12</text><text x="444" y="1560" textLength="15" lengthAdjust="spacingAndGlyphs">13</text><text x="466" y="1560" textLength="15" lengthAdjust="spacingAndGlyphs">14</text><text x="488" y="1560" textLength="15" lengthAdjust="spacingAndGlyphs">15</text><text x="510" y="1560" textLength="15" lengthAdjust="spacingAndGlyphs">16</text><text x="532" y="1560" textLength="15" lengthAdjust="spacingAndGlyphs">17</text><text x="554" y="1560" textLength="15" lengthAdjust="spacingAndGlyphs">18</text><text x="576" y="1560" textLength="15" lengthAdjust="spacingAndGlyphs">19</text><text x="599" y="1560" textLength="15" lengthAdjust="spacingAndGlyphs">20</text><text x="621" y="1560" textLength="15" lengthAdjust="spacingAndGlyphs">21</text><text x="643" y="1560" textLength="15" lengthAdjust="spacingAndGlyphs">22</text><text x="665" y="1560" textLength="15" lengthAdjust="spacingAndGlyphs">23</text><text x="687" y="1560" textLength="15" lengthAdjust="spacingAndGlyphs">24</text><text x="709" y="1560" textLength="15" lengthAdjust="spacingAndGlyphs">25</text><text x="731" y="1560" textLength="15" lengthAdjust="spacingAndGlyphs">26</text>
<text x="400" y="1582" textLength="15" lengthAdjust="spacingAndGlyphs">27</text><text x="422" y="1582" textLength="15" lengthAdjust="spacingAndGlyphs">28</text><text x="444" y="1582" textLength="15" lengthAdjust="spacingAndGlyphs">29</text><text x="466" y="1582" textLength="15" lengthAdjust="spacingAndGlyphs">30</text><text x="488" y="1582" textLength="15" lengthAdjust="spacingAndGlyphs">31</text><text x="510" y="1582" textLength="15" lengthAdjust="spacingAndGlyphs">32</text><text x="532" y="1582" textLength="15" lengthAdjust="spacingAndGlyphs">33</text><text x="554" y="1582" textLength="15" lengthAdjust="spacingAndGlyphs">34</text><text x="576" y="1582" textLength="15" lengthAdjust="spacingAndGlyphs">35</text><text x="599" y="1582" textLength="15" lengthAdjust="spacingAndGlyphs">36</text><text x="621" y="1582" textLength="15" lengthAdjust="spacingAndGlyphs">37</text><text x="643" y="1582" textLength="15" lengthAdjust="spacingAndGlyphs">38</text><text x="665" y="1582" textLength="15" lengthAdjust="spacingAndGlyphs">39</text><text x="687" y="1582" textLength="15" lengthAdjust="spacingAndGlyphs">40</text><text x="709" y="1582" textLength="15" lengthAdjust="spacingAndGlyphs">41</text><text x="731" y="1582" textLength="15" lengthAdjust="spacingAndGlyphs">42</text></g>

<text x="1394" y="1634" style="font-size:20px;dominant-baseline:central" textLength="95" lengthAdjust="spacingAndGlyphs">WI-05293</text>
</svg>
</body></html>
